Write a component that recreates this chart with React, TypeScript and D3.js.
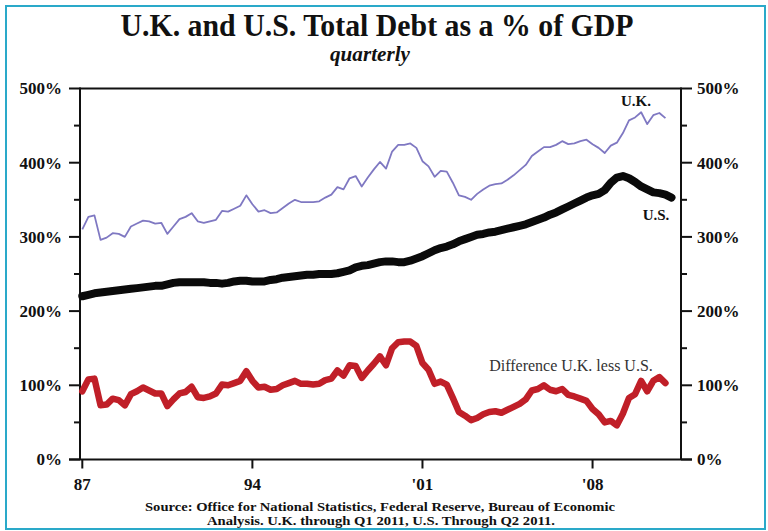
import React from "react";
import * as d3 from "d3";

const startYear = 1987;
const ukValues = [
  310, 327, 329, 296, 299, 305, 304, 300, 314, 318, 322, 321, 318, 319, 304, 314,
  324, 327, 332, 321, 319, 321, 323, 335, 334, 338, 342, 356, 344, 334, 336, 332,
  333, 339, 345, 350, 347, 347, 347, 348, 353, 357, 367, 364, 379, 382, 368, 380,
  391, 401, 392, 415, 424, 424, 426, 420, 402, 395, 381, 389, 388, 373, 356, 354,
  350, 358, 364, 369, 371, 372, 377, 383, 390, 397, 409, 415, 421, 421, 424, 429,
  425, 426, 429, 431, 425, 420, 413, 423, 427, 440, 457, 461, 468, 452, 464, 467, 460,
];
const usValues = [
  220, 222, 224, 225, 226, 227, 228, 229, 230, 231, 232, 233, 234, 234, 236, 238,
  239, 239, 239, 239, 239, 238, 238, 237, 238, 240, 241, 241, 240, 240, 240, 242,
  243, 245, 246, 247, 248, 249, 249, 250, 250, 250, 251, 253, 255, 259, 261, 262,
  264, 266, 267, 267, 266, 266, 268, 271, 274, 278, 282, 285, 287, 290, 294, 297,
  300, 303, 304, 306, 307, 309, 311, 313, 315, 317, 320, 323, 326, 330, 333, 337,
  341, 345, 349, 353, 356, 358, 363, 373, 380, 382, 379, 374, 368, 364, 360, 359,
  357, 353,
];
const diffValues = [
  92, 108, 109, 73, 74, 82, 80, 73, 88, 92, 97, 93, 89, 89, 72, 81,
  89, 91, 98, 84, 83, 85, 89, 101, 100, 103, 106, 119, 106, 97, 98, 94,
  95, 100, 103, 106, 102, 102, 101, 102, 107, 109, 120, 113, 127, 126, 110, 120,
  129, 139, 127, 150, 158, 159, 159, 153, 130, 121, 102, 105, 101, 83, 64, 59,
  53, 56, 61, 64, 65, 63, 67, 71, 75, 81, 93, 95, 100, 94, 92, 95,
  87, 85, 82, 79, 68, 61, 50, 52, 46, 62, 83, 88, 106, 92, 106, 111, 103,
];
const yTicks = [0, 100, 200, 300, 400, 500];
const yMinorTicks = [50, 150, 250, 350, 450];
const xTicks = [1987, 1994, 2001, 2008];
const xTickLabels = ["87", "94", "'01", "'08"];

const title = "U.K. and U.S. Total Debt as a % of GDP";
const subtitle = "quarterly";
const sourceLines = [
  "Source:  Office for National Statistics, Federal Reserve, Bureau of Economic",
  "Analysis. U.K. through Q1 2011, U.S. Through Q2 2011.",
];

const serif = "'Liberation Serif', 'Times New Roman', serif";

export default function App() {
  const left = 80, right = 681, top = 88.5, bottom = 459.5;
  const x = d3.scaleLinear().domain([1986.905, 2011.64]).range([left, right]);
  const y = d3.scaleLinear().domain([0, 500]).range([bottom, top]);
  const toPts = (vals: number[]) => vals.map((v, i) => [startYear + i * 0.25, v] as [number, number]);
  const line = d3
    .line<[number, number]>()
    .x((d) => x(d[0]))
    .y((d) => y(d[1]));

  return (
    <svg
      width={768}
      height={531}
      style={{ position: "absolute", left: 0, top: 0, display: "block", background: "#fff" }}
      fontFamily={serif}
    >
      <rect x={0} y={0} width={768} height={531} fill="#fff" />
      <rect x={6} y={6} width={759} height={523} fill="none" stroke="#2aa9c9" strokeWidth={2} />

      <text x={377} y={36} textAnchor="middle" fontSize={31} fontWeight="bold" textLength={513} lengthAdjust="spacingAndGlyphs" fill="#111">
        {title}
      </text>
      <text x={370} y={61} textAnchor="middle" fontSize={20} fontWeight="bold" fontStyle="italic" textLength={80} lengthAdjust="spacingAndGlyphs" fill="#111">
        {subtitle}
      </text>

      {/* frame */}
      <line x1={left} x2={right} y1={top} y2={top} stroke="#111" strokeWidth={2} />
      <line x1={69} x2={692} y1={bottom} y2={bottom} stroke="#111" strokeWidth={2} />
      <line x1={left} x2={left} y1={top - 1} y2={bottom} stroke="#111" strokeWidth={2} />
      <line x1={right} x2={right} y1={top - 1} y2={bottom} stroke="#111" strokeWidth={2} />

      {yTicks.map((t) => (
        <g key={"y" + t}>
          <line x1={69} x2={left} y1={y(t)} y2={y(t)} stroke="#111" strokeWidth={2} />
          <line x1={right} x2={692} y1={y(t)} y2={y(t)} stroke="#111" strokeWidth={2} />
          <text x={62} y={y(t)} dy="0.35em" textAnchor="end" fontSize={17} fontWeight="bold" fill="#111">
            {t + "%"}
          </text>
          <text x={697} y={y(t)} dy="0.35em" textAnchor="start" fontSize={17} fontWeight="bold" fill="#111">
            {t + "%"}
          </text>
        </g>
      ))}
      {yMinorTicks.map((t) => (
        <g key={"m" + t}>
          <line x1={74} x2={left} y1={y(t)} y2={y(t)} stroke="#111" strokeWidth={2} />
          <line x1={right} x2={687} y1={y(t)} y2={y(t)} stroke="#111" strokeWidth={2} />
        </g>
      ))}
      {xTicks.map((t, i) => (
        <g key={"x" + t}>
          <line x1={x(t)} x2={x(t)} y1={bottom} y2={bottom + 9} stroke="#111" strokeWidth={2} />
          <text x={x(t)} y={490} textAnchor="middle" fontSize={17} fontWeight="bold" fill="#111">
            {xTickLabels[i]}
          </text>
        </g>
      ))}

      <path d={line(toPts(ukValues)) || ""} fill="none" stroke="#7f78c2" strokeWidth={1.8} strokeLinejoin="round" />
      <path d={line(toPts(usValues)) || ""} fill="none" stroke="#0a0a0a" strokeWidth={8} strokeLinejoin="round" strokeLinecap="round" />
      <path d={line(toPts(diffValues)) || ""} fill="none" stroke="#c01f28" strokeWidth={6.5} strokeLinejoin="round" strokeLinecap="round" />

      <text x={636} y={106} textAnchor="middle" fontSize={15} fontWeight="bold" fill="#111">U.K.</text>
      <text x={656} y={220} textAnchor="middle" fontSize={15} fontWeight="bold" fill="#111">U.S.</text>
      <text x={571} y={371} textAnchor="middle" fontSize={16} fill="#333">Difference U.K. less U.S.</text>

      <text x={380} y={511} textAnchor="middle" fontSize={13} fontWeight="bold" textLength={470} lengthAdjust="spacingAndGlyphs" fill="#111">
        {sourceLines[0]}
      </text>
      <text x={381} y={525} textAnchor="middle" fontSize={13} fontWeight="bold" textLength={348} lengthAdjust="spacingAndGlyphs" fill="#111">
        {sourceLines[1]}
      </text>
    </svg>
  );
}
